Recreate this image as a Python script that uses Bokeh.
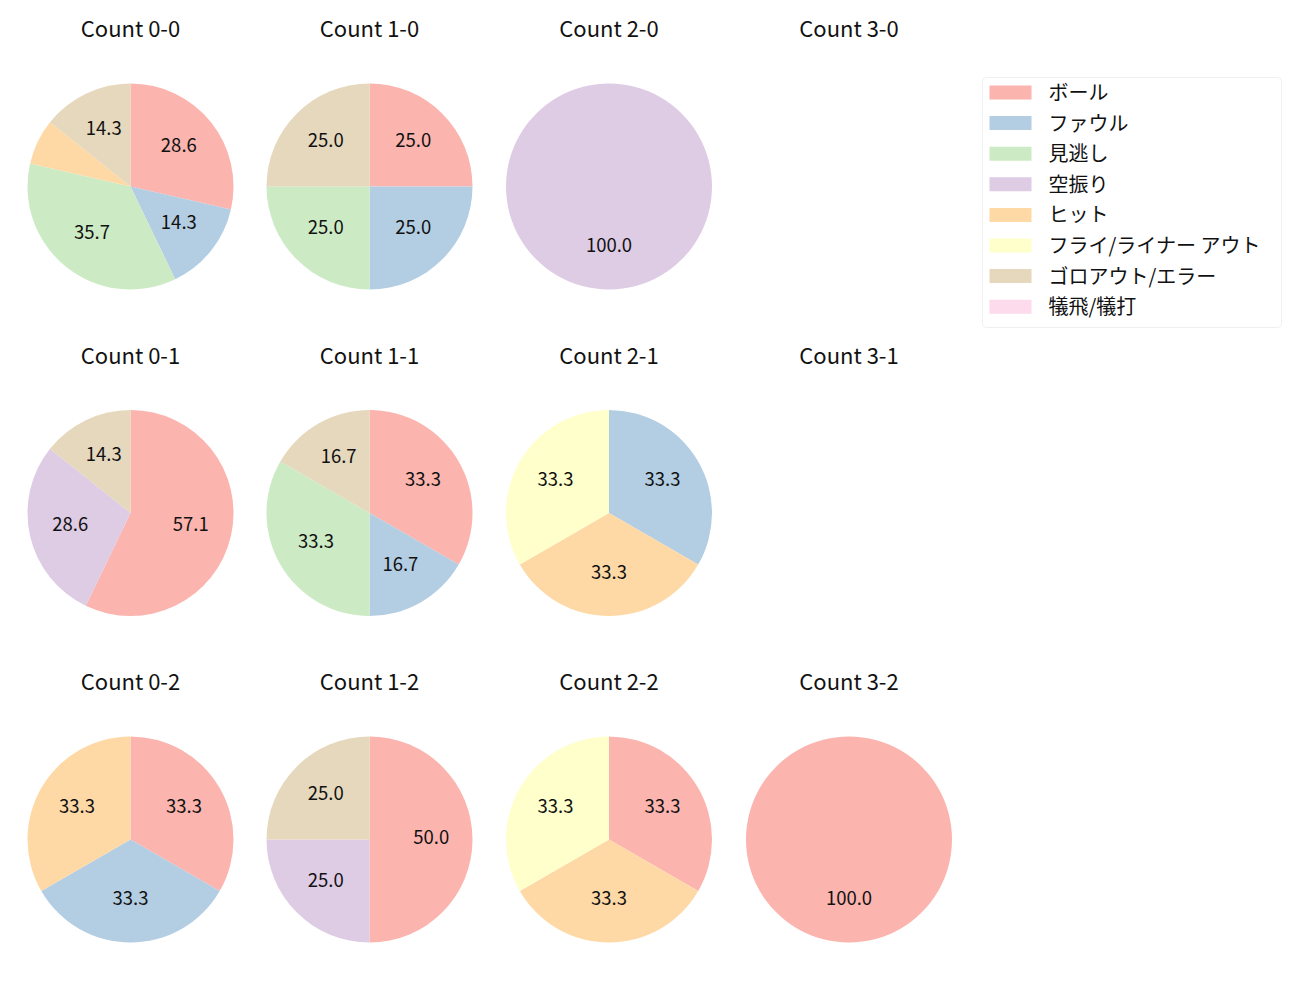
import numpy as np
from bokeh.plotting import figure
from bokeh.models import Range1d, BoxAnnotation, ColumnDataSource
from bokeh.core.properties import value
from bokeh.embed import file_html
from bokeh.resources import INLINE

FONT = "Noto Sans CJK JP"

categories = ["ボール", "ファウル", "見逃し", "空振り", "ヒット",
              "フライ/ライナー アウト", "ゴロアウト/エラー", "犠飛/犠打"]
colors = ["#fbb4ae", "#b3cde3", "#ccebc5", "#decbe4",
          "#fed9a6", "#ffffcc", "#e5d8bd", "#fddaec"]

# counts per category (same order as categories), keyed "balls-strikes"
count_0_0 = [4, 2, 5, 0, 1, 0, 2, 0]
count_1_0 = [1, 1, 1, 0, 0, 0, 1, 0]
count_2_0 = [0, 0, 0, 1, 0, 0, 0, 0]
count_3_0 = [0, 0, 0, 0, 0, 0, 0, 0]
count_0_1 = [4, 0, 0, 2, 0, 0, 1, 0]
count_1_1 = [2, 1, 2, 0, 0, 0, 1, 0]
count_2_1 = [0, 1, 0, 0, 1, 1, 0, 0]
count_3_1 = [0, 0, 0, 0, 0, 0, 0, 0]
count_0_2 = [1, 1, 0, 0, 1, 0, 0, 0]
count_1_2 = [2, 0, 0, 1, 0, 0, 1, 0]
count_2_2 = [1, 0, 0, 0, 1, 1, 0, 0]
count_3_2 = [1, 0, 0, 0, 0, 0, 0, 0]

grid = [
    [("Count 0-0", count_0_0), ("Count 1-0", count_1_0), ("Count 2-0", count_2_0), ("Count 3-0", count_3_0)],
    [("Count 0-1", count_0_1), ("Count 1-1", count_1_1), ("Count 2-1", count_2_1), ("Count 3-1", count_3_1)],
    [("Count 0-2", count_0_2), ("Count 1-2", count_1_2), ("Count 2-2", count_2_2), ("Count 3-2", count_3_2)],
]

# layout (page pixel coordinates; data y = 1000 - pixel y)
col_x = [130, 369, 608.5, 848.5]
row_y = [186, 512.5, 839]
title_y = [26, 353, 679]
R = 103
H = 1000
LBL_SHIFT = 3  # visual centring of digits

p = figure(width=1284, height=984, x_range=Range1d(0, 1284), y_range=Range1d(16, 1000),
           output_backend="svg", toolbar_location=None, min_border=0,
           x_axis_location=None, y_axis_location=None)
p.grid.visible = False
p.outline_line_color = None
p.background_fill_color = "white"

wx, wy, ws, we, wc = [], [], [], [], []
lx, ly, lt = [], [], []
tx, ty, tt = [], [], []
for r, row in enumerate(grid):
    for c, (title, vals) in enumerate(row):
        cx, cy = col_x[c], H - row_y[r]
        tx.append(cx); ty.append(H - title_y[r]); tt.append(title)
        total = sum(vals)
        if total == 0:
            continue
        cum = 0.0
        for k, v in enumerate(vals):
            if v == 0:
                continue
            f0 = cum / total
            cum += v
            f1 = cum / total
            a_start = 90 - f1 * 360
            a_end = 90 - f0 * 360
            mid = np.deg2rad((a_start + a_end) / 2)
            if f1 - f0 >= 0.99999:
                a_start = a_end - 359.99
            wx.append(cx); wy.append(cy)
            ws.append(np.deg2rad(a_start)); we.append(np.deg2rad(a_end))
            wc.append(colors[k])
            pct = 100.0 * v / total
            if pct >= 10:
                lx.append(cx + 0.6 * R * np.cos(mid))
                ly.append(cy + 0.6 * R * np.sin(mid) + LBL_SHIFT)
                lt.append(f"{pct:.1f}")

p.wedge(x="x", y="y", radius=R, start_angle="s", end_angle="e", fill_color="c",
        line_color=None, direction="anticlock",
        source=ColumnDataSource(dict(x=wx, y=wy, s=ws, e=we, c=wc)))
p.text(x=lx, y=ly, text=lt, text_align="center", text_baseline="middle",
       text_font=value(FONT), text_font_size="18.5px", text_color="#111111")
p.text(x=tx, y=ty, text=tt, text_align="center", text_baseline="middle",
       text_font=value(FONT), text_font_size="22px", text_color="#111111")

# legend
leg_left, leg_right, leg_top, leg_bottom = 982, 1281, 77, 327
p.add_layout(BoxAnnotation(left=leg_left, right=leg_right, top=H - leg_top, bottom=H - leg_bottom,
                           fill_color="white", fill_alpha=1.0, line_color="#cccccc",
                           line_width=1, border_radius=4, level="underlay"))
row0, pitch = 92, 30.6
ky = [H - (row0 + i * pitch) for i in range(len(categories))]
p.quad(left=[989] * len(categories), right=[1031] * len(categories),
       top=[y + 7 for y in ky], bottom=[y - 7 for y in ky], fill_color=colors,
       line_color=None)
p.text(x=[1048] * len(categories), y=[y + 1 for y in ky], text=categories, text_align="left",
       text_baseline="middle", text_font=value(FONT), text_font_size="20px",
       text_color="#111111")

open("out.html", "w").write(file_html(p, INLINE))
